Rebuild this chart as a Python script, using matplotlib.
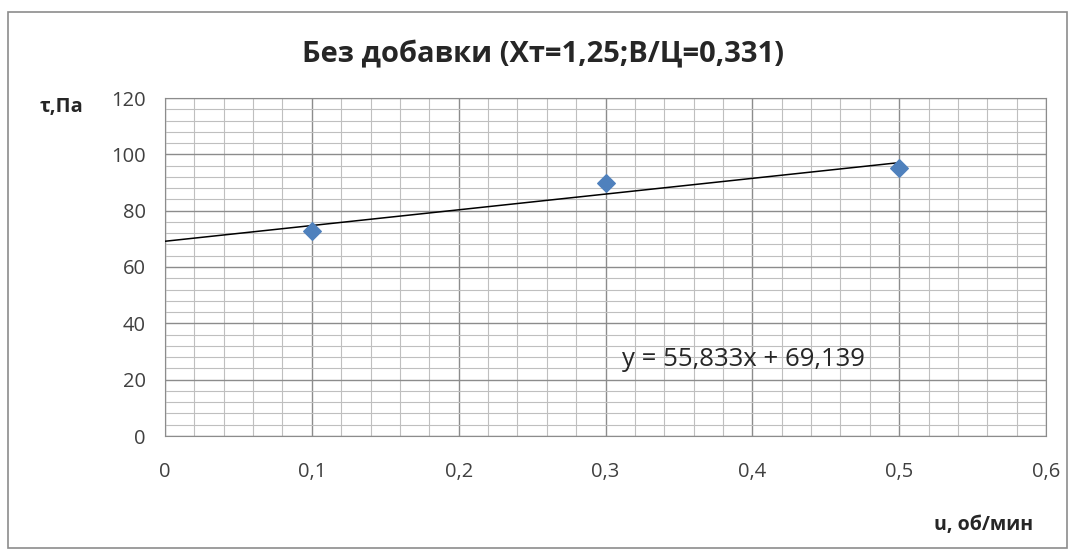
import matplotlib
matplotlib.use("Agg")
import matplotlib.pyplot as plt
import numpy as np
from matplotlib.ticker import MultipleLocator, FuncFormatter
from matplotlib.patches import Rectangle

x_vals = [0.1, 0.3, 0.5]
y_vals = [72.667, 90.0, 95.0]
slope = 55.833
intercept = 69.139
trend_x = [0.0, 0.5]
title = "Без добавки (Хт=1,25;В/Ц=0,331)"
eq_text = "y = 55,833x + 69,139"

plt.rcParams['font.family'] = ['Open Sans', 'DejaVu Sans']

fig = plt.figure(figsize=(10.75, 5.53), dpi=100)
fig.patches.append(Rectangle((8/1075, 1-548/553), (1067-8)/1075, (548-12)/553,
                             transform=fig.transFigure, fill=False,
                             edgecolor='#8c8c8c', linewidth=1.2))
ax = fig.add_axes([165/1075, 1-436/553, (1046-165)/1075, (436-98)/553])

ax.set_xlim(0, 0.6)
ax.set_ylim(0, 120)
ax.xaxis.set_major_locator(MultipleLocator(0.1))
ax.xaxis.set_minor_locator(MultipleLocator(0.02))
ax.yaxis.set_major_locator(MultipleLocator(20))
ax.yaxis.set_minor_locator(MultipleLocator(4))
ax.grid(which='major', color='#8c8c8c', linewidth=1.0)
ax.grid(which='minor', color='#bfbfbf', linewidth=0.8)
ax.set_axisbelow(True)
for s in ax.spines.values():
    s.set_color('#8c8c8c')
ax.tick_params(which='both', length=0)
ax.tick_params(axis='x', pad=19, labelsize=14.5, colors='#404040')
ax.tick_params(axis='y', pad=14, labelsize=14.5, colors='#404040')
ax.xaxis.set_major_formatter(FuncFormatter(lambda v, p: ('%g' % round(v, 2)).replace('.', ',')))
ax.yaxis.set_major_formatter(FuncFormatter(lambda v, p: '%d' % v))

tx = np.array(trend_x)
ax.plot(tx, slope * tx + intercept, color='black', linewidth=1.1, zorder=3)
ax.scatter(x_vals, y_vals, marker='D', s=80, color='#4F81BD', zorder=4)

ax.text(0.311, 27, eq_text, fontsize=18.5, color='#262626', va='center', ha='left')

fig.text(543/1075, 1-55/553, title, ha='center', va='center', fontsize=21, fontweight='bold', color='#262626')
fig.text(61/1075, 1-107/553, "τ,Па", ha='center', va='center', fontsize=14.5, fontweight='bold', color='#262626')
fig.text(984/1075, 1-525/553, "u, об/мин", ha='center', va='center', fontsize=14, fontweight='bold', color='#262626')

fig.savefig("out.png", dpi=100)
